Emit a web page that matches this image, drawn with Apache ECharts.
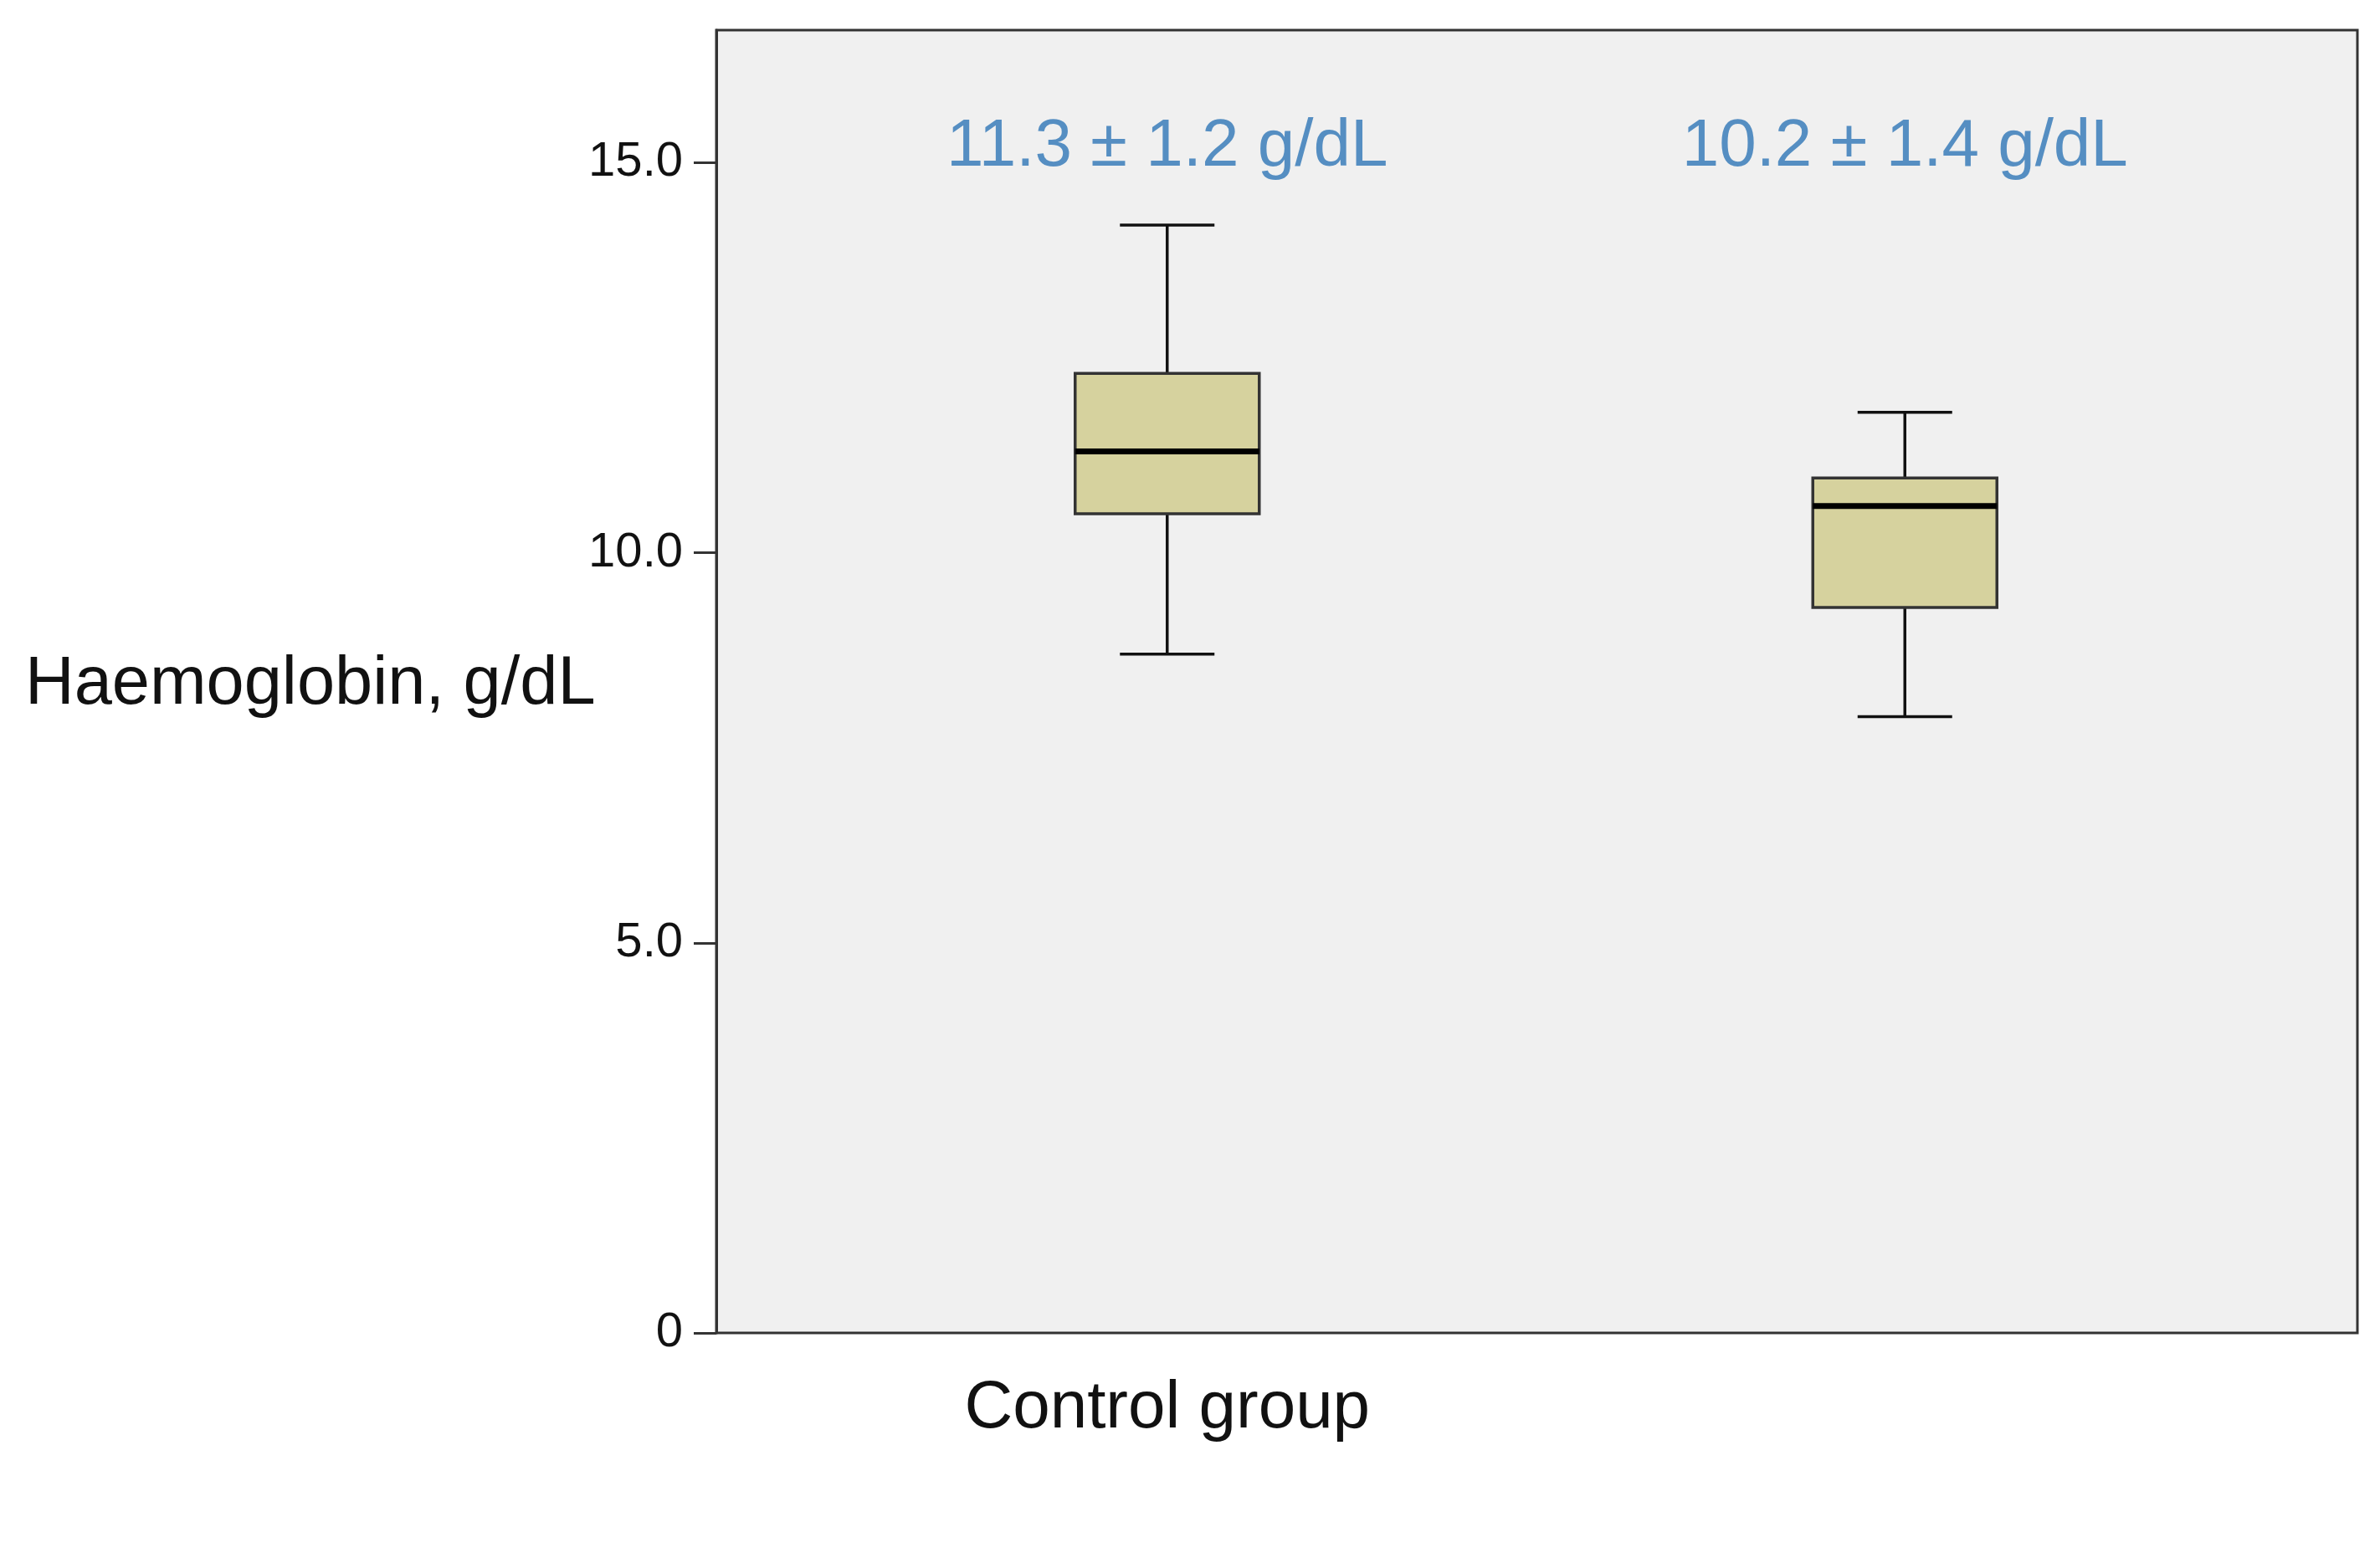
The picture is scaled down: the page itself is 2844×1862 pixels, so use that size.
<!DOCTYPE html>
<html>
<head>
<meta charset="utf-8">
<script src="https://cdn.jsdelivr.net/npm/echarts@6/dist/echarts.min.js"></script>
<style>html,body{margin:0;padding:0;background:#fff}#abc{width:2844px;height:1862px}</style>
</head>
<body>
<div id="abc"></div>
<script>
let myChart = echarts.init(document.getElementById('abc'));

// [min, Q1, median, Q3, max]
let groups = ['Control group', 'Septic complications\ngroup'];
let boxes = [
    [8.7, 10.5, 11.3, 12.3, 14.2],
    [7.9, 9.3, 10.6, 10.96, 11.8]
];
let notes = ['11.3 ± 1.2 g/dL', '10.2 ± 1.4 g/dL'];
let noteLevel = [15.2, 15.2];
let yTicks = ['0', '5.0', '10.0', '15.0'];

const boxW = 220, capW = 113;

function renderBox(params, api) {
    let i = api.value(0);
    let p = [1, 2, 3, 4, 5].map(k => api.coord([i, api.value(k)]));
    let x = p[0][0];
    let ls = { stroke: '#111', lineWidth: 3.5 };
    return {
        type: 'group',
        children: [
            { type: 'line', shape: { x1: x, y1: p[4][1], x2: x, y2: p[3][1] }, style: ls },
            { type: 'line', shape: { x1: x, y1: p[0][1], x2: x, y2: p[1][1] }, style: ls },
            { type: 'line', shape: { x1: x - capW / 2, y1: p[4][1], x2: x + capW / 2, y2: p[4][1] }, style: ls },
            { type: 'line', shape: { x1: x - capW / 2, y1: p[0][1], x2: x + capW / 2, y2: p[0][1] }, style: ls },
            { type: 'rect', shape: { x: x - boxW / 2, y: p[3][1], width: boxW, height: p[1][1] - p[3][1] },
              style: { fill: '#d6d29e', stroke: '#333', lineWidth: 3.5 } },
            { type: 'line', shape: { x1: x - boxW / 2, y1: p[2][1], x2: x + boxW / 2, y2: p[2][1] },
              style: { stroke: '#000', lineWidth: 7 } }
        ]
    };
}

let option = {
    backgroundColor: '#fff',
    grid: { left: 954, right: 127, top: 36, bottom: 269 },
    xAxis: {
        type: 'category',
        data: groups,
        axisLine: { show: false },
        axisTick: { alignWithLabel: true, length: 22, lineStyle: { color: '#333', width: 3 } },
        axisLabel: { color: '#111', fontSize: 80, margin: 46, lineHeight: 90, fontFamily: 'Liberation Sans' }
    },
    yAxis: {
        type: 'value',
        min: 0, max: 16.7, interval: 5,
        offset: 98,
        splitLine: { show: false },
        axisLine: { show: true, lineStyle: { color: '#333', width: 3 } },
        axisTick: { show: true, length: 27, lineStyle: { color: '#333', width: 3 } },
        axisLabel: {
            color: '#111', fontSize: 58, margin: 40, showMaxLabel: false,
            fontFamily: 'Liberation Sans',
            formatter: v => yTicks[Math.round(v / 5)] || ''
        }
    },
    graphic: [
        {
            type: 'rect', z: -10, silent: true,
            shape: { x: 856, y: 36, width: 1961, height: 1557 },
            style: { fill: '#f0f0f0', stroke: '#333', lineWidth: 3 }
        },
        {
            type: 'text', left: 30, top: 778,
            style: { text: 'Haemoglobin, g/dL', fontSize: 70 * 1.16, fill: '#111', fontFamily: 'Liberation Sans' }
        }
    ],
    series: [
        {
            type: 'custom',
            renderItem: renderBox,
            data: boxes.map((b, i) => [i].concat(b)),
            encode: { x: 0, y: [1, 2, 3, 4, 5] }
        },
        {
            type: 'scatter',
            data: noteLevel,
            symbolSize: 0,
            label: {
                show: true, position: 'inside', fontSize: 80, color: '#2e75b6',
                fontFamily: 'Liberation Sans',
                formatter: p => notes[p.dataIndex]
            }
        }
    ]
};
myChart.setOption(option);
</script>
</body>
</html>
